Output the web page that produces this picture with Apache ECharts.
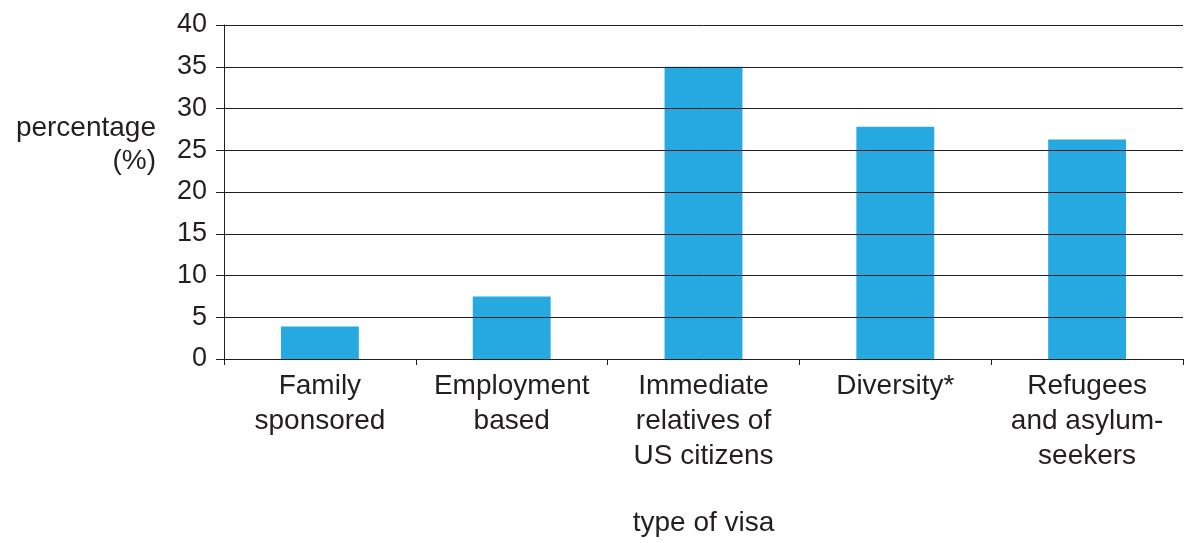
<!DOCTYPE html>
<html><head><meta charset="utf-8">
<script src="https://cdn.jsdelivr.net/npm/echarts@6/dist/echarts.min.js"></script>
<style>html,body{margin:0;padding:0;background:#fff}#c{width:1184px;height:543px}</style>
</head><body><div id="c"></div>
<script>
const categories = ['Family\nsponsored', 'Employment\nbased', 'Immediate\nrelatives of\nUS citizens', 'Diversity*', 'Refugees\nand asylum-\nseekers'];
const values = [3.9, 7.5, 35, 27.8, 26.3];
const yTicks = [0, 5, 10, 15, 20, 25, 30, 35, 40];
const yTitle = 'percentage\n(%)';
const xTitle = 'type of visa';

const ink = '#231f20';
const font = '"Liberation Sans", Arial, sans-serif';
const fs = 28;
const chart = echarts.init(document.getElementById('c'));
chart.setOption({
  animation: false,
  grid: { left: 224, right: 1, top: 25, bottom: 184, containLabel: false },
  xAxis: {
    type: 'category', data: categories,
    axisLine: { show: true, lineStyle: { color: ink, width: 1 } },
    axisTick: { show: true, length: 6, lineStyle: { color: ink } },
    axisLabel: { color: ink, fontSize: fs, fontFamily: font, lineHeight: 35, margin: 10, interval: 0 },
    name: xTitle, nameLocation: 'middle', nameGap: 150,
    nameTextStyle: { color: ink, fontSize: fs, fontFamily: font }
  },
  yAxis: {
    type: 'value', min: yTicks[0], max: yTicks[yTicks.length - 1], interval: 5,
    axisLine: { show: true, lineStyle: { color: ink, width: 1 } },
    axisTick: { show: true, length: 8, lineStyle: { color: ink } },
    axisLabel: { color: ink, fontSize: 27, fontFamily: font, margin: 17 },
    splitLine: { show: true, lineStyle: { color: ink, width: 1 } },
    z: 3
  },
  graphic: [{
    type: 'text', x: 156, y: 145,
    style: { text: yTitle, fill: ink, font: fs + 'px ' + font, textAlign: 'right', textVerticalAlign: 'middle', lineHeight: 33 }
  }],
  series: [{
    type: 'bar', data: values, barWidth: '40.6%', z: 1,
    itemStyle: { color: '#25a9e0' }
  }]
});
</script></body></html>
